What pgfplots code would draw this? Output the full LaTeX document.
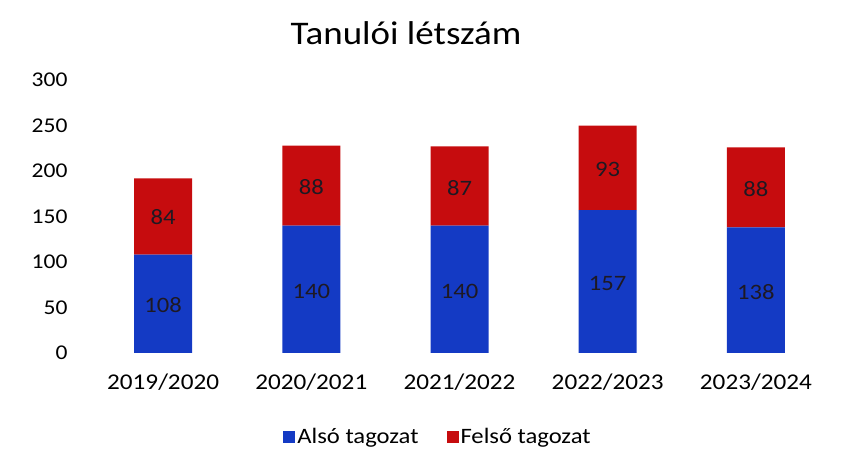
\documentclass[border=0pt]{standalone}
\usepackage{pgfplots}
\pgfplotsset{compat=1.18}
\usepackage{fontspec}
\setmainfont{Carlito}[FakeStretch=1.12]
\definecolor{alsoblue}{RGB}{20,58,196}
\definecolor{felsored}{RGB}{198,12,14}
\definecolor{lbl}{RGB}{30,25,35}
\pgfplotsset{
  common/.style={
    at={(89pt,97pt)}, anchor=south west,
    scale only axis, width=741pt, height=273pt,
    xmin=-0.5, xmax=4.5, ymin=0, ymax=300,
  }
}
\begin{document}
\begin{tikzpicture}
\path[use as bounding box] (0,0) rectangle (852pt,450pt);
\begin{axis}[
  common,
  ybar stacked, bar width=58pt,
  ytick={0,50,...,300},
  xtick={0,1,2,3,4},
  xticklabels={2019/2020,2020/2021,2021/2022,2022/2023,2023/2024},
  axis line style={draw=none}, major tick length=0pt,
  /pgf/number format/assume math mode=true,
  yticklabel style={font=\fontsize{21}{21}\selectfont, anchor=east, xshift=-18pt},
  xticklabel style={font=\fontsize{22.5}{22.5}\selectfont, anchor=north, yshift=-17pt},
  legend style={at={(0.471,-0.308)}, anchor=center, legend columns=2, draw=none,
    font=\fontsize{22}{22}\selectfont,
    /tikz/every even column/.append style={column sep=26pt}},
  legend image code/.code={\fill[#1] (0pt,-6pt) rectangle (12pt,6pt);},
]
\addplot[fill=alsoblue, draw=none] coordinates {(0,108) (1,140) (2,140) (3,157) (4,138)};
\addplot[fill=felsored, draw=none] coordinates {(0,84) (1,88) (2,87) (3,93) (4,88)};
\legend{Alsó tagozat, Felső tagozat}
\end{axis}
\begin{axis}[common, hide axis]
\addplot[draw=none, mark=none, nodes near coords, point meta=explicit symbolic,
  every node near coord/.style={anchor=center, text=lbl, font=\fontsize{22}{22}\selectfont}]
  coordinates {(0,53)[108] (1,68)[140] (2,68)[140] (3,76)[157] (4,67)[138]
               (0,149)[84] (1,182)[88] (2,181.5)[87] (3,201.5)[93] (4,180)[88]};
\end{axis}
\node[font=\fontsize{33}{33}\selectfont] at (406pt,417pt) {Tanulói létszám};
\end{tikzpicture}
\end{document}
